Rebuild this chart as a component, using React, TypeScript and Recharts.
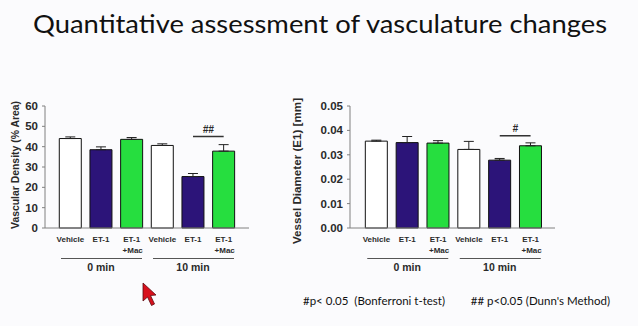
import React from 'react';
import {
  Bar,
  BarChart,
  Cell,
  ErrorBar,
  ReferenceLine,
  XAxis,
  YAxis,
} from 'recharts';

// Bar order: 3 treatments at 0 min, then 3 at 10 min
const groupIds = ['veh0', 'et0', 'mac0', 'veh10', 'et10', 'mac10'];
const tickLine1 = ['Vehicle', 'ET-1', 'ET-1', 'Vehicle', 'ET-1', 'ET-1'];
const tickLine2 = ['', '', '+Mac', '', '', '+Mac'];
const timeLabels = ['0 min', '10 min'];
const barFills = ['#ffffff', '#2c1479', '#26de3f', '#ffffff', '#2c1479', '#26de3f'];

// Vascular density (% area), mean and upper SEM
const densityMean = [44, 38.5, 43.6, 40.6, 25.3, 37.8];
const densitySem = [0.8, 1.4, 0.9, 0.8, 1.5, 3.2];
const densityTicks = [0, 10, 20, 30, 40, 50, 60];

// Vessel diameter (mm), mean and upper SEM
const diameterMean = [0.0356, 0.035, 0.0348, 0.0322, 0.0278, 0.0337];
const diameterSem = [0.0004, 0.0025, 0.001, 0.0033, 0.0007, 0.0012];
const diameterTicks = [0, 0.01, 0.02, 0.03, 0.04, 0.05];

const densityData = groupIds.map((id, i) => ({
  id,
  value: densityMean[i],
  err: [0, densitySem[i]],
}));
const diameterData = groupIds.map((id, i) => ({
  id,
  value: diameterMean[i],
  err: [0, diameterSem[i]],
}));

const AXIS = '#808080';
const TEXT = '#2a2a2a';
const FONT = '"Liberation Sans", Arial, sans-serif';

// Category tick with two-line label; middle bar of each group also draws the time bracket
const GroupTick = ({ x, y, payload }: any) => {
  const i = groupIds.indexOf(payload.value);
  const mid = i === 1 || i === 4;
  return (
    <g fontFamily={FONT} fontWeight="bold" fill={TEXT}>
      <text x={x} y={y + 12} textAnchor="middle" fontSize={8}>
        {tickLine1[i]}
      </text>
      {tickLine2[i] && (
        <text x={x + 1} y={y + 23} textAnchor="middle" fontSize={8}>
          {tickLine2[i]}
        </text>
      )}
      {mid && (
        <>
          <line x1={x - 40} x2={x + 41} y1={y + 28.5} y2={y + 28.5} stroke="#555" strokeWidth={1.2} />
          <text x={x} y={y + 41} textAnchor="middle" fontSize={10.5}>
            {timeLabels[i === 1 ? 0 : 1]}
          </text>
        </>
      )}
    </g>
  );
};

const Panel = ({ data, ticks, domain, fmt, sig, pad, marginLeft, width }: any) => (
  <BarChart
    width={width}
    height={290}
    data={data}
    margin={{ top: 106, right: width === 260 ? 11 : 15, left: marginLeft, bottom: 12 }}
    barCategoryGap="14%"
  >
    <XAxis
      dataKey="id"
      tick={<GroupTick />}
      tickLine={false}
      tickSize={0}
      height={50}
      stroke={AXIS}
      padding={pad}
      interval={0}
    />
    <XAxis
      xAxisId="top"
      orientation="top"
      dataKey="id"
      tick={false}
      tickLine={false}
      height={0}
      stroke={AXIS}
      padding={pad}
    />
    <YAxis
      domain={domain}
      ticks={ticks}
      tickFormatter={fmt}
      tickSize={3}
      tickMargin={4}
      width={30}
      stroke={AXIS}
      tick={{ fill: TEXT, fontSize: 11.5, fontWeight: 'bold', fontFamily: FONT }}
    />
    <YAxis yAxisId="r" orientation="right" domain={[0, 1]} tick={false} tickLine={false} width={0} stroke={AXIS} />
    <Bar dataKey="value" stroke="#111" strokeWidth={1} isAnimationActive={false}>
      {data.map((d: any, i: number) => (
        <Cell key={d.id} fill={barFills[i]} />
      ))}
      <ErrorBar dataKey="err" direction="y" width={5} stroke="#222" strokeWidth={1} />
    </Bar>
    <ReferenceLine
      segment={[
        { x: 'et10', y: sig.y },
        { x: 'mac10', y: sig.y },
      ]}
      stroke="#333"
      strokeWidth={1.5}
      label={{
        value: sig.text,
        position: 'top',
        offset: 4,
        fill: TEXT,
        fontSize: 10,
        fontWeight: 'bold',
        fontStyle: 'italic',
        fontFamily: FONT,
      }}
    />
  </BarChart>
);

export default function App() {
  return (
    <div
      style={{
        position: 'absolute',
        left: 0,
        top: 0,
        width: 638,
        height: 326,
        background: '#fbfbfd',
        overflow: 'hidden',
      }}
    >
      <div style={{ position: 'absolute', left: 0, top: 0 }}>
        <Panel
          data={densityData}
          ticks={densityTicks}
          domain={[0, 60]}
          fmt={(v: number) => `${v}`}
          sig={{ y: 45, text: '##' }}
          pad={{ left: 10, right: 10 }}
          marginLeft={15}
          width={260}
        />
      </div>
      <div style={{ position: 'absolute', left: 280, top: 0 }}>
        <Panel
          data={diameterData}
          ticks={diameterTicks}
          domain={[0, 0.05]}
          fmt={(v: number) => v.toFixed(2)}
          sig={{ y: 0.0378, text: '#' }}
          pad={{ left: 11, right: 9 }}
          marginLeft={40}
          width={290}
        />
      </div>
      <svg
        width={638}
        height={326}
        style={{ position: 'absolute', left: 0, top: 0, pointerEvents: 'none' }}
      >
        <text x={33} y={33} fontFamily="Lato, sans-serif" fontSize={25} fill="#111" textLength={574} lengthAdjust="spacingAndGlyphs">
          Quantitative assessment of vasculature changes
        </text>
        <text
          transform="translate(19,165) rotate(-90)"
          textAnchor="middle"
          fontFamily={FONT}
          fontWeight="bold"
          fontSize={11}
          fill={TEXT}
          textLength={128}
          lengthAdjust="spacingAndGlyphs"
        >
          Vascular Density (% Area)
        </text>
        <text
          transform="translate(301,171) rotate(-90)"
          textAnchor="middle"
          fontFamily={FONT}
          fontWeight="bold"
          fontSize={11}
          fill={TEXT}
          textLength={146}
          lengthAdjust="spacingAndGlyphs"
        >
          Vessel Diameter (E1) [mm]
        </text>
        <text x={303} y={305} fontFamily="Lato, sans-serif" fontSize={11.5} fill="#111" style={{ whiteSpace: 'pre' }}>
          {'#p< 0.05  (Bonferroni t-test)'}
        </text>
        <text x={610} y={305} textAnchor="end" fontFamily="Lato, sans-serif" fontSize={11.5} fill="#111" style={{ whiteSpace: 'pre' }}>
          {"## p<0.05 (Dunn's Method)"}
        </text>
        <polygon
          points="143,283 143,301 147.5,297 151.5,305.5 154.5,304 150.5,295.5 156,295"
          fill="#d8101c"
          stroke="#5a0a10"
          strokeWidth={0.8}
        />
      </svg>
    </div>
  );
}
